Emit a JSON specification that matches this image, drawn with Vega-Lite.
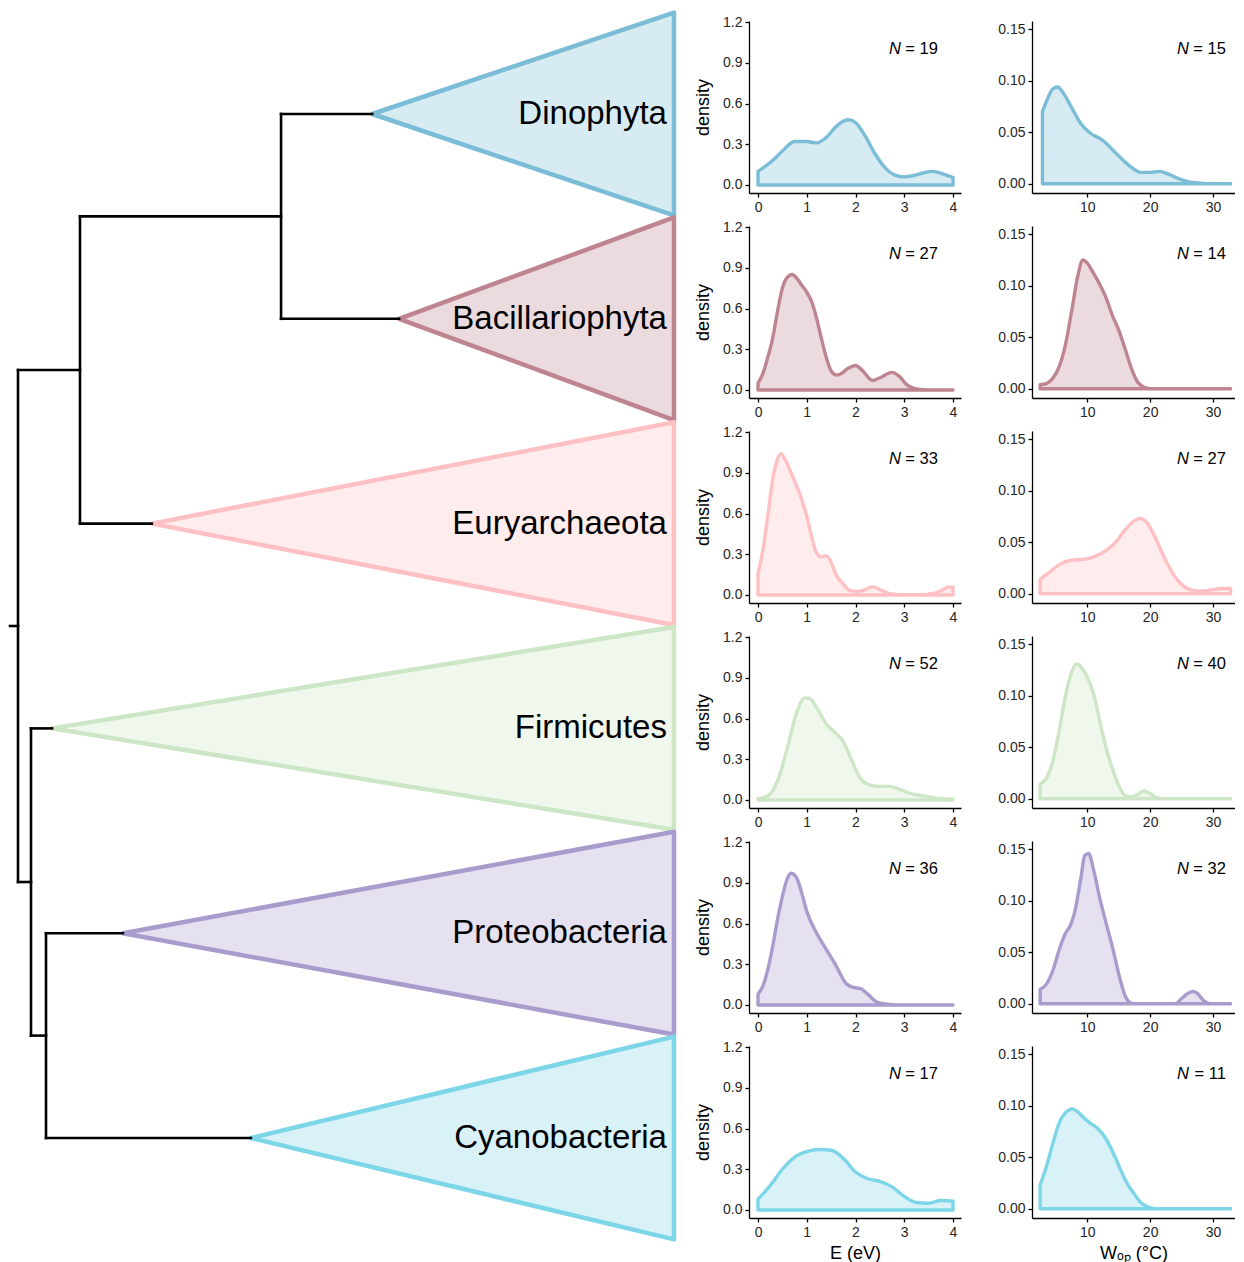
{
"$schema":"https://vega.github.io/schema/vega-lite/v6.json",
"background":"white",
"padding":{"left":8,"top":10,"right":0,"bottom":0},
"config":{"view":{"stroke":null},"font":"Liberation Sans",
 "axis":{"grid":false,"domainColor":"black","domainWidth":1.3,"tickColor":"black","tickWidth":1.3,"tickSize":4,"labelFontSize":14,"labelColor":"#262626","labelPadding":3,"labelFlush":false,"titleFontSize":18,"titleFontWeight":"normal","titleColor":"black"},
 "axisY":{"titlePadding":10},"axisX":{"titlePadding":5}},
"datasets":{
 "tri":[
  {"clade":"Dinophyta","x":0.540,"lo":1,"hi":1},{"clade":"Dinophyta","x":1,"lo":0.505,"hi":1.495},
  {"clade":"Bacillariophyta","x":0.581,"lo":2,"hi":2},{"clade":"Bacillariophyta","x":1,"lo":1.505,"hi":2.495},
  {"clade":"Euryarchaeota","x":0.204,"lo":3,"hi":3},{"clade":"Euryarchaeota","x":1,"lo":2.505,"hi":3.495},
  {"clade":"Firmicutes","x":0.052,"lo":4,"hi":4},{"clade":"Firmicutes","x":1,"lo":3.505,"hi":4.495},
  {"clade":"Proteobacteria","x":0.160,"lo":5,"hi":5},{"clade":"Proteobacteria","x":1,"lo":4.505,"hi":5.495},
  {"clade":"Cyanobacteria","x":0.355,"lo":6,"hi":6},{"clade":"Cyanobacteria","x":1,"lo":5.505,"hi":6.495}],
 "edges":[
  {"x1":-0.0122,"y1":3.5,"x2":0,"y2":3.5},
  {"x1":0,"y1":2.25,"x2":0,"y2":4.75},
  {"x1":0,"y1":2.25,"x2":0.0945,"y2":2.25},
  {"x1":0.0945,"y1":1.5,"x2":0.0945,"y2":3},
  {"x1":0.0945,"y1":1.5,"x2":0.401,"y2":1.5},
  {"x1":0.401,"y1":1,"x2":0.401,"y2":2},
  {"x1":0.401,"y1":1,"x2":0.540,"y2":1},
  {"x1":0.401,"y1":2,"x2":0.581,"y2":2},
  {"x1":0.0945,"y1":3,"x2":0.204,"y2":3},
  {"x1":0,"y1":4.75,"x2":0.0198,"y2":4.75},
  {"x1":0.0198,"y1":4,"x2":0.0198,"y2":5.5},
  {"x1":0.0198,"y1":4,"x2":0.052,"y2":4},
  {"x1":0.0198,"y1":5.5,"x2":0.0427,"y2":5.5},
  {"x1":0.0427,"y1":5,"x2":0.0427,"y2":6},
  {"x1":0.0427,"y1":5,"x2":0.160,"y2":5},
  {"x1":0.0427,"y1":6,"x2":0.355,"y2":6}],
 "tips":[{"clade":"Dinophyta","tip":1},{"clade":"Bacillariophyta","tip":2},{"clade":"Euryarchaeota","tip":3},{"clade":"Firmicutes","tip":4},{"clade":"Proteobacteria","tip":5},{"clade":"Cyanobacteria","tip":6}],
 "DinoE":[{"x":0,"y":0.10},{"x":0.3,"y":0.18},{"x":0.5,"y":0.25},{"x":0.75,"y":0.32},{"x":1.0,"y":0.32},{"x":1.2,"y":0.31},{"x":1.4,"y":0.35},{"x":1.6,"y":0.43},{"x":1.85,"y":0.48},{"x":2.0,"y":0.46},{"x":2.2,"y":0.36},{"x":2.4,"y":0.23},{"x":2.6,"y":0.13},{"x":2.8,"y":0.075},{"x":3.0,"y":0.06},{"x":3.2,"y":0.07},{"x":3.4,"y":0.09},{"x":3.6,"y":0.10},{"x":3.8,"y":0.08},{"x":4.0,"y":0.055}],
 "DinoW":[{"x":2.86,"y":0.070},{"x":3.5,"y":0.080},{"x":4.5,"y":0.092},{"x":5.3,"y":0.094},{"x":6.2,"y":0.088},{"x":7.5,"y":0.074},{"x":9,"y":0.058},{"x":10.5,"y":0.049},{"x":12.5,"y":0.042},{"x":14,"y":0.033},{"x":15.5,"y":0.024},{"x":17,"y":0.016},{"x":18.5,"y":0.011},{"x":20,"y":0.011},{"x":21.5,"y":0.012},{"x":23,"y":0.009},{"x":24.5,"y":0.005},{"x":26,"y":0.002},{"x":28,"y":0.0005},{"x":30,"y":0},{"x":32.8,"y":0}],
 "BacE":[{"x":0,"y":0.05},{"x":0.1,"y":0.12},{"x":0.2,"y":0.24},{"x":0.3,"y":0.38},{"x":0.4,"y":0.58},{"x":0.5,"y":0.75},{"x":0.6,"y":0.83},{"x":0.7,"y":0.85},{"x":0.8,"y":0.82},{"x":0.9,"y":0.77},{"x":1.0,"y":0.72},{"x":1.1,"y":0.65},{"x":1.2,"y":0.53},{"x":1.3,"y":0.38},{"x":1.4,"y":0.24},{"x":1.5,"y":0.14},{"x":1.6,"y":0.11},{"x":1.7,"y":0.12},{"x":1.85,"y":0.16},{"x":2.0,"y":0.18},{"x":2.15,"y":0.14},{"x":2.35,"y":0.07},{"x":2.5,"y":0.09},{"x":2.75,"y":0.13},{"x":2.9,"y":0.10},{"x":3.05,"y":0.04},{"x":3.2,"y":0.012},{"x":3.4,"y":0.003},{"x":3.7,"y":0},{"x":4.0,"y":0}],
 "BacW":[{"x":2.5,"y":0.004},{"x":3.5,"y":0.005},{"x":4.5,"y":0.010},{"x":5.5,"y":0.021},{"x":6.5,"y":0.042},{"x":7.5,"y":0.075},{"x":8.5,"y":0.110},{"x":9.3,"y":0.125},{"x":10,"y":0.122},{"x":11,"y":0.112},{"x":12,"y":0.101},{"x":13,"y":0.088},{"x":14,"y":0.071},{"x":15,"y":0.057},{"x":16,"y":0.039},{"x":17,"y":0.020},{"x":18,"y":0.0065},{"x":19,"y":0.0016},{"x":20,"y":0},{"x":32.8,"y":0}],
 "EuryE":[{"x":0,"y":0.16},{"x":0.1,"y":0.33},{"x":0.2,"y":0.58},{"x":0.3,"y":0.85},{"x":0.4,"y":1.0},{"x":0.47,"y":1.04},{"x":0.55,"y":1.0},{"x":0.7,"y":0.88},{"x":0.85,"y":0.75},{"x":1.0,"y":0.58},{"x":1.1,"y":0.43},{"x":1.2,"y":0.31},{"x":1.3,"y":0.28},{"x":1.4,"y":0.29},{"x":1.5,"y":0.24},{"x":1.6,"y":0.15},{"x":1.75,"y":0.08},{"x":1.9,"y":0.03},{"x":2.05,"y":0.027},{"x":2.2,"y":0.04},{"x":2.35,"y":0.06},{"x":2.5,"y":0.04},{"x":2.7,"y":0.01},{"x":3.0,"y":0.002},{"x":3.3,"y":0.002},{"x":3.6,"y":0.012},{"x":3.8,"y":0.04},{"x":3.9,"y":0.058},{"x":4.0,"y":0.058}],
 "EuryW":[{"x":2.5,"y":0.014},{"x":4,"y":0.021},{"x":5.5,"y":0.028},{"x":7,"y":0.032},{"x":8.5,"y":0.033},{"x":10,"y":0.034},{"x":11.5,"y":0.037},{"x":13,"y":0.042},{"x":14.5,"y":0.050},{"x":16,"y":0.062},{"x":17.5,"y":0.071},{"x":18.5,"y":0.073},{"x":19.5,"y":0.069},{"x":21,"y":0.052},{"x":22.5,"y":0.032},{"x":24,"y":0.016},{"x":25.5,"y":0.0065},{"x":27,"y":0.003},{"x":28.5,"y":0.0026},{"x":30,"y":0.004},{"x":31.5,"y":0.005},{"x":32.8,"y":0.005}],
 "FirmE":[{"x":0,"y":0.01},{"x":0.2,"y":0.03},{"x":0.4,"y":0.14},{"x":0.6,"y":0.38},{"x":0.8,"y":0.65},{"x":0.95,"y":0.75},{"x":1.05,"y":0.75},{"x":1.2,"y":0.68},{"x":1.4,"y":0.56},{"x":1.6,"y":0.49},{"x":1.75,"y":0.43},{"x":1.9,"y":0.31},{"x":2.1,"y":0.16},{"x":2.3,"y":0.11},{"x":2.5,"y":0.10},{"x":2.7,"y":0.10},{"x":2.9,"y":0.08},{"x":3.1,"y":0.05},{"x":3.4,"y":0.03},{"x":3.7,"y":0.012},{"x":4.0,"y":0.005}],
 "FirmW":[{"x":2.5,"y":0.014},{"x":3.5,"y":0.02},{"x":4.5,"y":0.036},{"x":5.5,"y":0.065},{"x":6.5,"y":0.099},{"x":7.5,"y":0.123},{"x":8.3,"y":0.131},{"x":9,"y":0.128},{"x":10,"y":0.118},{"x":11,"y":0.102},{"x":12,"y":0.075},{"x":13,"y":0.049},{"x":14,"y":0.029},{"x":15,"y":0.013},{"x":16,"y":0.003},{"x":17,"y":0.0016},{"x":18,"y":0.004},{"x":19,"y":0.0075},{"x":20,"y":0.005},{"x":21,"y":0.001},{"x":22,"y":0},{"x":32.8,"y":0}],
 "ProtE":[{"x":0,"y":0.08},{"x":0.1,"y":0.14},{"x":0.2,"y":0.26},{"x":0.3,"y":0.43},{"x":0.4,"y":0.63},{"x":0.5,"y":0.80},{"x":0.6,"y":0.93},{"x":0.68,"y":0.97},{"x":0.8,"y":0.93},{"x":0.9,"y":0.82},{"x":1.0,"y":0.69},{"x":1.2,"y":0.53},{"x":1.4,"y":0.41},{"x":1.6,"y":0.29},{"x":1.8,"y":0.16},{"x":1.95,"y":0.13},{"x":2.1,"y":0.12},{"x":2.25,"y":0.08},{"x":2.45,"y":0.02},{"x":2.7,"y":0.005},{"x":3.0,"y":0},{"x":4.0,"y":0}],
 "ProtW":[{"x":2.5,"y":0.014},{"x":3.5,"y":0.019},{"x":4.5,"y":0.032},{"x":5.5,"y":0.052},{"x":6.5,"y":0.068},{"x":7.3,"y":0.076},{"x":8,"y":0.089},{"x":9,"y":0.123},{"x":9.6,"y":0.144},{"x":10.2,"y":0.146},{"x":11,"y":0.130},{"x":12,"y":0.102},{"x":13,"y":0.078},{"x":14,"y":0.055},{"x":15,"y":0.029},{"x":16,"y":0.008},{"x":17,"y":0.0006},{"x":18,"y":0},{"x":24,"y":0},{"x":25,"y":0.005},{"x":26,"y":0.010},{"x":26.8,"y":0.012},{"x":27.5,"y":0.010},{"x":28.5,"y":0.003},{"x":29.5,"y":0},{"x":32.8,"y":0}],
 "CyanE":[{"x":0,"y":0.08},{"x":0.25,"y":0.18},{"x":0.5,"y":0.30},{"x":0.75,"y":0.39},{"x":1.0,"y":0.43},{"x":1.25,"y":0.445},{"x":1.5,"y":0.44},{"x":1.75,"y":0.38},{"x":2.0,"y":0.28},{"x":2.25,"y":0.23},{"x":2.5,"y":0.21},{"x":2.75,"y":0.17},{"x":3.0,"y":0.10},{"x":3.25,"y":0.055},{"x":3.5,"y":0.05},{"x":3.75,"y":0.07},{"x":4.0,"y":0.065}],
 "CyanW":[{"x":2.5,"y":0.023},{"x":3.5,"y":0.041},{"x":4.5,"y":0.063},{"x":5.5,"y":0.083},{"x":6.5,"y":0.093},{"x":7.6,"y":0.097},{"x":8.5,"y":0.094},{"x":9.5,"y":0.088},{"x":10.5,"y":0.083},{"x":11.5,"y":0.079},{"x":12.5,"y":0.072},{"x":13.5,"y":0.062},{"x":14.5,"y":0.049},{"x":15.5,"y":0.035},{"x":16.5,"y":0.023},{"x":17.5,"y":0.014},{"x":18.5,"y":0.006},{"x":19.5,"y":0.002},{"x":20.5,"y":0.0003},{"x":21.5,"y":0},{"x":32.8,"y":0}]
},
"hconcat":[
 {"width":667,"height":1197,"layer":[
  {"data":{"name":"tri"},"mark":{"type":"area","orient":"vertical","fillOpacity":0.3,"strokeWidth":4.5,"strokeJoin":"round"},
   "encoding":{"x":{"field":"x","type":"quantitative","scale":{"domain":[-0.0122,1.0046],"nice":false,"zero":false},"axis":null},
    "y":{"field":"lo","type":"quantitative","scale":{"domain":[0.5459,6.3906],"nice":false,"zero":false,"reverse":true},"axis":null},
    "y2":{"field":"hi"},
    "detail":{"field":"clade"},
    "fill":{"field":"clade","type":"nominal","legend":null,"scale":{"domain":["Dinophyta","Bacillariophyta","Euryarchaeota","Firmicutes","Proteobacteria","Cyanobacteria"],"range":["#7BBDD6","#BE8591","#FFC0C4","#CDE6C5","#AA9BCD","#7DD5E8"]}},
    "stroke":{"field":"clade","type":"nominal","legend":null,"scale":{"domain":["Dinophyta","Bacillariophyta","Euryarchaeota","Firmicutes","Proteobacteria","Cyanobacteria"],"range":["#7BBDD6","#BE8591","#FFC0C4","#CDE6C5","#AA9BCD","#7DD5E8"]}}}},
  {"data":{"name":"edges"},"mark":{"type":"rule","color":"black","strokeWidth":2.6,"strokeCap":"square"},
   "encoding":{"x":{"field":"x1","type":"quantitative"},"x2":{"field":"x2"},"y":{"field":"y1","type":"quantitative"},"y2":{"field":"y2"}}},
  {"data":{"name":"tips"},"mark":{"type":"text","align":"right","baseline":"middle","dx":-7,"fontSize":33,"color":"black"},
   "encoding":{"x":{"datum":1},"y":{"field":"tip","type":"quantitative"},"text":{"field":"clade"}}}
 ]},
 {"columns":2,"spacing":{"row":33,"column":71},"bounds":"flush","concat":[
  {"width":212,"height":172,"layer":[
   {"data":{"name":"DinoE"},"mark":{"type":"area","orient":"vertical","interpolate":"monotone","fill":"#7BBDD6","fillOpacity":0.3,"stroke":"#7BBDD6","strokeWidth":3.4,"strokeJoin":"round"},
    "encoding":{"x":{"field":"x","type":"quantitative","scale":{"domain":[-0.185,4.164],"nice":false,"zero":false},"axis":{"values":[0,1,2,3,4],"title":null}},
     "y":{"field":"y","type":"quantitative","scale":{"domain":[-0.0589,1.2074],"nice":false,"zero":false},"axis":{"values":[0,0.3,0.6,0.9,1.2],"format":".1f","title":"density"}},"y2":{"datum":0}}},
   {"data":{"values":[{}]},"mark":{"type":"text","align":"right","fontSize":16.5,"color":"black"},"encoding":{"x":{"datum":3.69},"y":{"datum":1.0},"text":{"value":"= 19"}}},
   {"data":{"values":[{}]},"mark":{"type":"text","align":"right","fontSize":16.5,"fontStyle":"italic","dx":-37,"color":"black"},"encoding":{"x":{"datum":3.69},"y":{"datum":1.0},"text":{"value":"N"}}}]},
  {"width":203,"height":172,"layer":[
   {"data":{"name":"DinoW"},"mark":{"type":"area","orient":"vertical","interpolate":"monotone","fill":"#7BBDD6","fillOpacity":0.3,"stroke":"#7BBDD6","strokeWidth":3.4,"strokeJoin":"round"},
    "encoding":{"x":{"field":"x","type":"quantitative","scale":{"domain":[1.2,33.5],"nice":false,"zero":false},"axis":{"values":[10,20,30],"title":null}},
     "y":{"field":"y","type":"quantitative","scale":{"domain":[-0.00904,0.1581],"nice":false,"zero":false},"axis":{"values":[0,0.05,0.1,0.15],"format":".2f","title":null}},"y2":{"datum":0}}},
   {"data":{"values":[{}]},"mark":{"type":"text","align":"right","fontSize":16.5,"color":"black"},"encoding":{"x":{"datum":32.06},"y":{"datum":0.1309},"text":{"value":"= 15"}}},
   {"data":{"values":[{}]},"mark":{"type":"text","align":"right","fontSize":16.5,"fontStyle":"italic","dx":-37,"color":"black"},"encoding":{"x":{"datum":32.06},"y":{"datum":0.1309},"text":{"value":"N"}}}]},
  {"width":212,"height":172,"layer":[
   {"data":{"name":"BacE"},"mark":{"type":"area","orient":"vertical","interpolate":"monotone","fill":"#BE8591","fillOpacity":0.3,"stroke":"#BE8591","strokeWidth":3.4,"strokeJoin":"round"},
    "encoding":{"x":{"field":"x","type":"quantitative","scale":{"domain":[-0.185,4.164],"nice":false,"zero":false},"axis":{"values":[0,1,2,3,4],"title":null}},
     "y":{"field":"y","type":"quantitative","scale":{"domain":[-0.0589,1.2074],"nice":false,"zero":false},"axis":{"values":[0,0.3,0.6,0.9,1.2],"format":".1f","title":"density"}},"y2":{"datum":0}}},
   {"data":{"values":[{}]},"mark":{"type":"text","align":"right","fontSize":16.5,"color":"black"},"encoding":{"x":{"datum":3.69},"y":{"datum":1.0},"text":{"value":"= 27"}}},
   {"data":{"values":[{}]},"mark":{"type":"text","align":"right","fontSize":16.5,"fontStyle":"italic","dx":-37,"color":"black"},"encoding":{"x":{"datum":3.69},"y":{"datum":1.0},"text":{"value":"N"}}}]},
  {"width":203,"height":172,"layer":[
   {"data":{"name":"BacW"},"mark":{"type":"area","orient":"vertical","interpolate":"monotone","fill":"#BE8591","fillOpacity":0.3,"stroke":"#BE8591","strokeWidth":3.4,"strokeJoin":"round"},
    "encoding":{"x":{"field":"x","type":"quantitative","scale":{"domain":[1.2,33.5],"nice":false,"zero":false},"axis":{"values":[10,20,30],"title":null}},
     "y":{"field":"y","type":"quantitative","scale":{"domain":[-0.00904,0.1581],"nice":false,"zero":false},"axis":{"values":[0,0.05,0.1,0.15],"format":".2f","title":null}},"y2":{"datum":0}}},
   {"data":{"values":[{}]},"mark":{"type":"text","align":"right","fontSize":16.5,"color":"black"},"encoding":{"x":{"datum":32.06},"y":{"datum":0.1309},"text":{"value":"= 14"}}},
   {"data":{"values":[{}]},"mark":{"type":"text","align":"right","fontSize":16.5,"fontStyle":"italic","dx":-37,"color":"black"},"encoding":{"x":{"datum":32.06},"y":{"datum":0.1309},"text":{"value":"N"}}}]},
  {"width":212,"height":172,"layer":[
   {"data":{"name":"EuryE"},"mark":{"type":"area","orient":"vertical","interpolate":"monotone","fill":"#FFC0C4","fillOpacity":0.3,"stroke":"#FFC0C4","strokeWidth":3.4,"strokeJoin":"round"},
    "encoding":{"x":{"field":"x","type":"quantitative","scale":{"domain":[-0.185,4.164],"nice":false,"zero":false},"axis":{"values":[0,1,2,3,4],"title":null}},
     "y":{"field":"y","type":"quantitative","scale":{"domain":[-0.0589,1.2074],"nice":false,"zero":false},"axis":{"values":[0,0.3,0.6,0.9,1.2],"format":".1f","title":"density"}},"y2":{"datum":0}}},
   {"data":{"values":[{}]},"mark":{"type":"text","align":"right","fontSize":16.5,"color":"black"},"encoding":{"x":{"datum":3.69},"y":{"datum":1.0},"text":{"value":"= 33"}}},
   {"data":{"values":[{}]},"mark":{"type":"text","align":"right","fontSize":16.5,"fontStyle":"italic","dx":-37,"color":"black"},"encoding":{"x":{"datum":3.69},"y":{"datum":1.0},"text":{"value":"N"}}}]},
  {"width":203,"height":172,"layer":[
   {"data":{"name":"EuryW"},"mark":{"type":"area","orient":"vertical","interpolate":"monotone","fill":"#FFC0C4","fillOpacity":0.3,"stroke":"#FFC0C4","strokeWidth":3.4,"strokeJoin":"round"},
    "encoding":{"x":{"field":"x","type":"quantitative","scale":{"domain":[1.2,33.5],"nice":false,"zero":false},"axis":{"values":[10,20,30],"title":null}},
     "y":{"field":"y","type":"quantitative","scale":{"domain":[-0.00904,0.1581],"nice":false,"zero":false},"axis":{"values":[0,0.05,0.1,0.15],"format":".2f","title":null}},"y2":{"datum":0}}},
   {"data":{"values":[{}]},"mark":{"type":"text","align":"right","fontSize":16.5,"color":"black"},"encoding":{"x":{"datum":32.06},"y":{"datum":0.1309},"text":{"value":"= 27"}}},
   {"data":{"values":[{}]},"mark":{"type":"text","align":"right","fontSize":16.5,"fontStyle":"italic","dx":-37,"color":"black"},"encoding":{"x":{"datum":32.06},"y":{"datum":0.1309},"text":{"value":"N"}}}]},
  {"width":212,"height":172,"layer":[
   {"data":{"name":"FirmE"},"mark":{"type":"area","orient":"vertical","interpolate":"monotone","fill":"#CDE6C5","fillOpacity":0.3,"stroke":"#CDE6C5","strokeWidth":3.4,"strokeJoin":"round"},
    "encoding":{"x":{"field":"x","type":"quantitative","scale":{"domain":[-0.185,4.164],"nice":false,"zero":false},"axis":{"values":[0,1,2,3,4],"title":null}},
     "y":{"field":"y","type":"quantitative","scale":{"domain":[-0.0589,1.2074],"nice":false,"zero":false},"axis":{"values":[0,0.3,0.6,0.9,1.2],"format":".1f","title":"density"}},"y2":{"datum":0}}},
   {"data":{"values":[{}]},"mark":{"type":"text","align":"right","fontSize":16.5,"color":"black"},"encoding":{"x":{"datum":3.69},"y":{"datum":1.0},"text":{"value":"= 52"}}},
   {"data":{"values":[{}]},"mark":{"type":"text","align":"right","fontSize":16.5,"fontStyle":"italic","dx":-37,"color":"black"},"encoding":{"x":{"datum":3.69},"y":{"datum":1.0},"text":{"value":"N"}}}]},
  {"width":203,"height":172,"layer":[
   {"data":{"name":"FirmW"},"mark":{"type":"area","orient":"vertical","interpolate":"monotone","fill":"#CDE6C5","fillOpacity":0.3,"stroke":"#CDE6C5","strokeWidth":3.4,"strokeJoin":"round"},
    "encoding":{"x":{"field":"x","type":"quantitative","scale":{"domain":[1.2,33.5],"nice":false,"zero":false},"axis":{"values":[10,20,30],"title":null}},
     "y":{"field":"y","type":"quantitative","scale":{"domain":[-0.00904,0.1581],"nice":false,"zero":false},"axis":{"values":[0,0.05,0.1,0.15],"format":".2f","title":null}},"y2":{"datum":0}}},
   {"data":{"values":[{}]},"mark":{"type":"text","align":"right","fontSize":16.5,"color":"black"},"encoding":{"x":{"datum":32.06},"y":{"datum":0.1309},"text":{"value":"= 40"}}},
   {"data":{"values":[{}]},"mark":{"type":"text","align":"right","fontSize":16.5,"fontStyle":"italic","dx":-37,"color":"black"},"encoding":{"x":{"datum":32.06},"y":{"datum":0.1309},"text":{"value":"N"}}}]},
  {"width":212,"height":172,"layer":[
   {"data":{"name":"ProtE"},"mark":{"type":"area","orient":"vertical","interpolate":"monotone","fill":"#AA9BCD","fillOpacity":0.3,"stroke":"#AA9BCD","strokeWidth":3.4,"strokeJoin":"round"},
    "encoding":{"x":{"field":"x","type":"quantitative","scale":{"domain":[-0.185,4.164],"nice":false,"zero":false},"axis":{"values":[0,1,2,3,4],"title":null}},
     "y":{"field":"y","type":"quantitative","scale":{"domain":[-0.0589,1.2074],"nice":false,"zero":false},"axis":{"values":[0,0.3,0.6,0.9,1.2],"format":".1f","title":"density"}},"y2":{"datum":0}}},
   {"data":{"values":[{}]},"mark":{"type":"text","align":"right","fontSize":16.5,"color":"black"},"encoding":{"x":{"datum":3.69},"y":{"datum":1.0},"text":{"value":"= 36"}}},
   {"data":{"values":[{}]},"mark":{"type":"text","align":"right","fontSize":16.5,"fontStyle":"italic","dx":-37,"color":"black"},"encoding":{"x":{"datum":3.69},"y":{"datum":1.0},"text":{"value":"N"}}}]},
  {"width":203,"height":172,"layer":[
   {"data":{"name":"ProtW"},"mark":{"type":"area","orient":"vertical","interpolate":"monotone","fill":"#AA9BCD","fillOpacity":0.3,"stroke":"#AA9BCD","strokeWidth":3.4,"strokeJoin":"round"},
    "encoding":{"x":{"field":"x","type":"quantitative","scale":{"domain":[1.2,33.5],"nice":false,"zero":false},"axis":{"values":[10,20,30],"title":null}},
     "y":{"field":"y","type":"quantitative","scale":{"domain":[-0.00904,0.1581],"nice":false,"zero":false},"axis":{"values":[0,0.05,0.1,0.15],"format":".2f","title":null}},"y2":{"datum":0}}},
   {"data":{"values":[{}]},"mark":{"type":"text","align":"right","fontSize":16.5,"color":"black"},"encoding":{"x":{"datum":32.06},"y":{"datum":0.1309},"text":{"value":"= 32"}}},
   {"data":{"values":[{}]},"mark":{"type":"text","align":"right","fontSize":16.5,"fontStyle":"italic","dx":-37,"color":"black"},"encoding":{"x":{"datum":32.06},"y":{"datum":0.1309},"text":{"value":"N"}}}]},
  {"width":212,"height":172,"layer":[
   {"data":{"name":"CyanE"},"mark":{"type":"area","orient":"vertical","interpolate":"monotone","fill":"#7DD5E8","fillOpacity":0.3,"stroke":"#7DD5E8","strokeWidth":3.4,"strokeJoin":"round"},
    "encoding":{"x":{"field":"x","type":"quantitative","scale":{"domain":[-0.185,4.164],"nice":false,"zero":false},"axis":{"values":[0,1,2,3,4],"title":"E (eV)"}},
     "y":{"field":"y","type":"quantitative","scale":{"domain":[-0.0589,1.2074],"nice":false,"zero":false},"axis":{"values":[0,0.3,0.6,0.9,1.2],"format":".1f","title":"density"}},"y2":{"datum":0}}},
   {"data":{"values":[{}]},"mark":{"type":"text","align":"right","fontSize":16.5,"color":"black"},"encoding":{"x":{"datum":3.69},"y":{"datum":1.0},"text":{"value":"= 17"}}},
   {"data":{"values":[{}]},"mark":{"type":"text","align":"right","fontSize":16.5,"fontStyle":"italic","dx":-37,"color":"black"},"encoding":{"x":{"datum":3.69},"y":{"datum":1.0},"text":{"value":"N"}}}]},
  {"width":203,"height":172,"layer":[
   {"data":{"name":"CyanW"},"mark":{"type":"area","orient":"vertical","interpolate":"monotone","fill":"#7DD5E8","fillOpacity":0.3,"stroke":"#7DD5E8","strokeWidth":3.4,"strokeJoin":"round"},
    "encoding":{"x":{"field":"x","type":"quantitative","scale":{"domain":[1.2,33.5],"nice":false,"zero":false},"axis":{"values":[10,20,30],"title":"Wₒₚ (°C)"}},
     "y":{"field":"y","type":"quantitative","scale":{"domain":[-0.00904,0.1581],"nice":false,"zero":false},"axis":{"values":[0,0.05,0.1,0.15],"format":".2f","title":null}},"y2":{"datum":0}}},
   {"data":{"values":[{}]},"mark":{"type":"text","align":"right","fontSize":16.5,"color":"black"},"encoding":{"x":{"datum":32.06},"y":{"datum":0.1309},"text":{"value":"= 11"}}},
   {"data":{"values":[{}]},"mark":{"type":"text","align":"right","fontSize":16.5,"fontStyle":"italic","dx":-37,"color":"black"},"encoding":{"x":{"datum":32.06},"y":{"datum":0.1309},"text":{"value":"N"}}}]}
 ]}
],"spacing":17}
